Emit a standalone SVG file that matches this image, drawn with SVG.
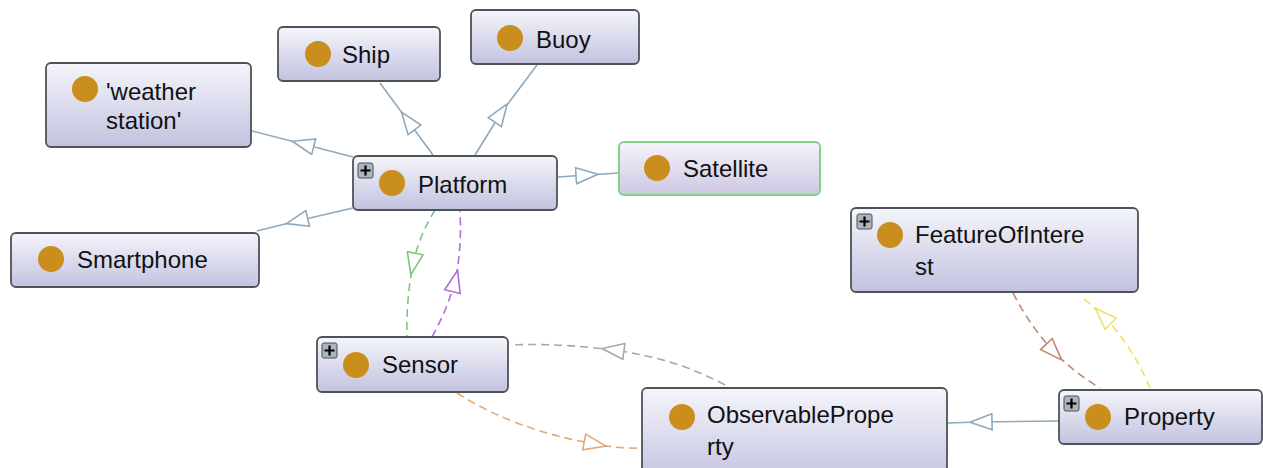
<svg xmlns="http://www.w3.org/2000/svg" width="1263" height="468" viewBox="0 0 1263 468">
<style>
.node rect.box{fill:url(#g);stroke:#4e5358;stroke-width:1.8}
.node rect.sat{fill:url(#g2);stroke:#86d086;stroke-width:2}
.dot{fill:#c98e1b}
.t{font-family:"Liberation Sans",Arial,sans-serif;font-size:24px;fill:#111}
.pb{fill:#aab5bd;stroke:#4a5056;stroke-width:1}
.pl{stroke:#000;stroke-width:2.2}
.e{fill:none;stroke-width:1.6}
.sol{stroke:#8ea9bd}
.d{stroke-dasharray:8 5}
</style>
<defs>
<linearGradient id="g" x1="0" y1="0" x2="0" y2="1">
<stop offset="0" stop-color="#f5f5fb"/>
<stop offset="1" stop-color="#c2c2e0"/>
</linearGradient>
<linearGradient id="g2" x1="0" y1="0" x2="0" y2="1">
<stop offset="0" stop-color="#f6f4fa"/>
<stop offset="1" stop-color="#cdc6e4"/>
</linearGradient>
<marker id="mb" viewBox="-12 -9 24 18" refX="0" refY="0" markerWidth="24" markerHeight="18" markerUnits="userSpaceOnUse" orient="auto"><path d="M-11,-8 L11,0 L-11,8 Z" fill="#fff" stroke="#8ea9bd" stroke-width="1.6"/></marker>
<marker id="mg" viewBox="-12 -9 24 18" refX="0" refY="0" markerWidth="24" markerHeight="18" markerUnits="userSpaceOnUse" orient="auto"><path d="M-11,-8 L11,0 L-11,8 Z" fill="#fff" stroke="#7cc67c" stroke-width="1.6"/></marker>
<marker id="mp" viewBox="-12 -9 24 18" refX="0" refY="0" markerWidth="24" markerHeight="18" markerUnits="userSpaceOnUse" orient="auto"><path d="M-11,-8 L11,0 L-11,8 Z" fill="#fff" stroke="#b06ed8" stroke-width="1.6"/></marker>
<marker id="mgr" viewBox="-12 -9 24 18" refX="0" refY="0" markerWidth="24" markerHeight="18" markerUnits="userSpaceOnUse" orient="auto"><path d="M-11,-8 L11,0 L-11,8 Z" fill="#fff" stroke="#a8a8a8" stroke-width="1.6"/></marker>
<marker id="mo" viewBox="-12 -9 24 18" refX="0" refY="0" markerWidth="24" markerHeight="18" markerUnits="userSpaceOnUse" orient="auto"><path d="M-11,-8 L11,0 L-11,8 Z" fill="#fff" stroke="#e2aa78" stroke-width="1.6"/></marker>
<marker id="mbr" viewBox="-12 -9 24 18" refX="0" refY="0" markerWidth="24" markerHeight="18" markerUnits="userSpaceOnUse" orient="auto"><path d="M-11,-8 L11,0 L-11,8 Z" fill="#fff" stroke="#c4866a" stroke-width="1.6"/></marker>
<marker id="my" viewBox="-12 -9 24 18" refX="0" refY="0" markerWidth="24" markerHeight="18" markerUnits="userSpaceOnUse" orient="auto"><path d="M-11,-8 L11,0 L-11,8 Z" fill="#fff" stroke="#f0df6a" stroke-width="1.6"/></marker>
</defs>
<rect width="1263" height="468" fill="#fff"/>
<g id="connectors">
<path class="e sol" d="M353,157 L303,144 L252,131" marker-mid="url(#mb)"/>
<path class="e sol" d="M433,155 L408,121 L380,83" marker-mid="url(#mb)"/>
<path class="e sol" d="M475,155 L501,113 L537,65" marker-mid="url(#mb)"/>
<path class="e sol" d="M558,177 L587,175 L619,173" marker-mid="url(#mb)"/>
<path class="e sol" d="M353,208 L297,221 L257,231" marker-mid="url(#mb)"/>
<path class="e sol" d="M1059,421 L981,422 L947,423" marker-mid="url(#mb)"/>
<path class="e d" stroke="#7cc67c" d="M435,210 Q419,236 413,264 Q406,300 407,337" marker-mid="url(#mg)"/>
<path class="e d" stroke="#b06ed8" d="M432,337 Q448,308 455,281 Q462,250 460,210" marker-mid="url(#mp)"/>
<path class="e d" stroke="#a8a8a8" d="M725,385 Q675,358 613,350 Q560,343 510,345" marker-mid="url(#mgr)"/>
<path class="e d" stroke="#e2aa78" d="M457,393 Q515,430 595,444 Q620,449 642,448" marker-mid="url(#mo)"/>
<path class="e d" stroke="#c4866a" d="M1013,293 Q1030,326 1054,352 Q1075,373 1100,388" marker-mid="url(#mbr)"/>
<path class="e d" stroke="#f0df6a" d="M1150,388 Q1132,345 1103,316 Q1092,305 1080,296" marker-mid="url(#my)"/>
</g>
<g id="weather-station" class="node">
<rect class="box" x="46" y="63" width="205" height="84" rx="5"/>
<circle class="dot" cx="85" cy="89" r="13"/>
<text class="t" x="106" y="100">'weather</text>
<text class="t" x="106" y="129">station'</text>
</g>
<g id="ship" class="node">
<rect class="box" x="278" y="27" width="162" height="54" rx="5"/>
<circle class="dot" cx="318" cy="54" r="13"/>
<text class="t" x="342" y="63">Ship</text>
</g>
<g id="buoy" class="node">
<rect class="box" x="471" y="10" width="168" height="54" rx="5"/>
<circle class="dot" cx="510" cy="38" r="13"/>
<text class="t" x="536" y="48">Buoy</text>
</g>
<g id="platform" class="node">
<rect class="box" x="353" y="156" width="204" height="54" rx="5"/>
<rect class="pb" x="358" y="163" width="15" height="15" rx="2"/>
<path class="pl" d="M360.5,170.5 H370.5 M365.5,165.5 V175.5"/>
<circle class="dot" cx="392" cy="183" r="13"/>
<text class="t" x="418" y="193">Platform</text>
</g>
<g id="satellite" class="node">
<rect class="sat" x="619" y="142" width="201" height="53" rx="5"/>
<circle class="dot" cx="657" cy="168" r="13"/>
<text class="t" x="683" y="177">Satellite</text>
</g>
<g id="smartphone" class="node">
<rect class="box" x="11" y="233" width="248" height="54" rx="5"/>
<circle class="dot" cx="51" cy="259" r="13"/>
<text class="t" x="77" y="268">Smartphone</text>
</g>
<g id="feature-of-interest" class="node">
<rect class="box" x="851" y="208" width="287" height="84" rx="5"/>
<rect class="pb" x="857" y="214" width="15" height="15" rx="2"/>
<path class="pl" d="M859.5,221.5 H869.5 M864.5,216.5 V226.5"/>
<circle class="dot" cx="890" cy="235" r="13"/>
<text class="t" x="915" y="243">FeatureOfIntere</text>
<text class="t" x="915" y="275">st</text>
</g>
<g id="sensor" class="node">
<rect class="box" x="317" y="337" width="191" height="55" rx="5"/>
<rect class="pb" x="322" y="343" width="15" height="15" rx="2"/>
<path class="pl" d="M324.5,350.5 H334.5 M329.5,345.5 V355.5"/>
<circle class="dot" cx="356" cy="365" r="13"/>
<text class="t" x="382" y="373">Sensor</text>
</g>
<g id="observable-property" class="node">
<rect class="box" x="642" y="388" width="305" height="95" rx="5"/>
<circle class="dot" cx="682" cy="417" r="13"/>
<text class="t" x="707" y="423">ObservablePrope</text>
<text class="t" x="707" y="455">rty</text>
</g>
<g id="property" class="node">
<rect class="box" x="1059" y="390" width="203" height="54" rx="5"/>
<rect class="pb" x="1064" y="396" width="15" height="15" rx="2"/>
<path class="pl" d="M1066.5,403.5 H1076.5 M1071.5,398.5 V408.5"/>
<circle class="dot" cx="1098" cy="417" r="13"/>
<text class="t" x="1124" y="425">Property</text>
</g>
</svg>
